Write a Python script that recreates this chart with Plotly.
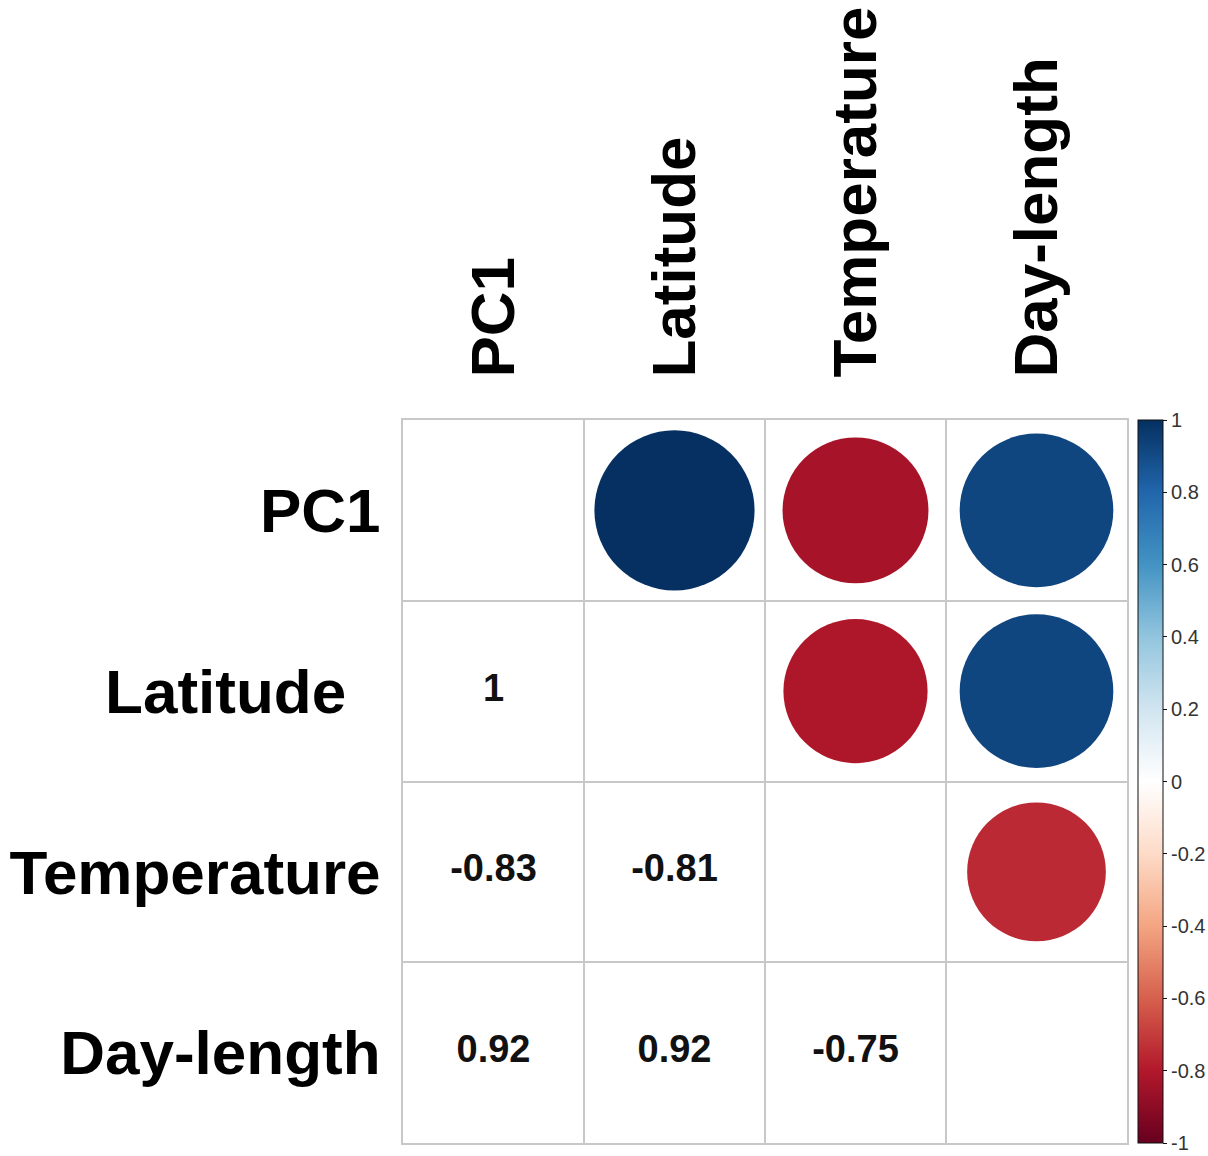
import numpy as np
import plotly.graph_objects as go

variables = ["PC1", "Latitude", "Temperature", "Day-length"]
row_labels = ["PC1", "Latitude\u00a0\u00a0", "Temperature", "Day-length"]
corr = [
    [1.00, 1.00, -0.83, 0.92],
    [1.00, 1.00, -0.81, 0.92],
    [-0.83, -0.81, 1.00, -0.75],
    [0.92, 0.92, -0.75, 1.00],
]
cb_ticks = [1, 0.8, 0.6, 0.4, 0.2, 0, -0.2, -0.4, -0.6, -0.8, -1]
rdbu = ["#67001F", "#B2182B", "#D6604D", "#F4A582", "#FDDBC7", "#FFFFFF",
        "#D1E5F0", "#92C5DE", "#4393C3", "#2166AC", "#053061"]

W, H = 1208, 1156
L, R, T, B = 403, 81, 420, 13
n = len(variables)
cell_px = (W - L - R) / n

cx, cy, cval, csize = [], [], [], []
tx, ty, ttxt = [], [], []
for i in range(n):
    for j in range(n):
        v = corr[i][j]
        if j > i:
            cx.append(j); cy.append(i); cval.append(v)
            csize.append(0.885 * cell_px * np.sqrt(abs(v)))
        elif j < i:
            tx.append(j); ty.append(i); ttxt.append(f"{v:g}")

colorscale = [[k / (len(rdbu) - 1), c] for k, c in enumerate(rdbu)]

fig = go.Figure()
fig.add_trace(go.Scatter(
    x=cx, y=cy, mode="markers",
    marker=dict(size=csize, color=cval, colorscale=colorscale, cmin=-1, cmax=1,
                line=dict(width=0), opacity=1,
                showscale=True,
                colorbar=dict(x=1.0152, xanchor="left", y=0.5, yanchor="middle",
                              xpad=0, ypad=0,
                              len=1.0, lenmode="fraction", thickness=25,
                              outlinewidth=1, outlinecolor="#111",
                              tickvals=cb_ticks, ticktext=[f"{t:g}" for t in cb_ticks],
                              ticks="outside", ticklen=4, tickcolor="#111",
                              tickfont=dict(family="Liberation Sans", size=20, color="#333"))),
    hoverinfo="skip", showlegend=False,
))
fig.add_trace(go.Scatter(
    x=tx, y=ty, mode="text", text=ttxt,
    textfont=dict(family="Liberation Sans", size=38, color="#111", weight="bold"),
    hoverinfo="skip", showlegend=False,
))

axis_font = dict(family="Liberation Sans", size=62, color="#000", weight="bold")
fig.update_xaxes(
    range=[-0.5, n - 0.5], side="top", tickmode="array",
    tickvals=list(range(n)), ticktext=variables, tickangle=-90,
    tickfont=axis_font, ticks="", ticklabelstandoff=28,
    showgrid=False, zeroline=False,
    showline=True, mirror=True, linecolor="#c8c8c8", linewidth=2,
    minor=dict(tickmode="linear", tick0=-0.5, dtick=1, showgrid=True,
               gridcolor="#c8c8c8", gridwidth=2, ticks=""),
)
fig.update_yaxes(
    range=[n - 0.5, -0.5], tickmode="array",
    tickvals=list(range(n)), ticktext=row_labels,
    tickfont=axis_font, ticks="", ticklabelstandoff=8,
    showgrid=False, zeroline=False,
    showline=True, mirror=True, linecolor="#c8c8c8", linewidth=2,
    minor=dict(tickmode="linear", tick0=-0.5, dtick=1, showgrid=True,
               gridcolor="#c8c8c8", gridwidth=2, ticks=""),
)
fig.update_layout(
    width=W, height=H, margin=dict(l=L, r=R, t=T, b=B, autoexpand=False),
    paper_bgcolor="white", plot_bgcolor="white",
)
fig.write_html(
    "out.html",
    config={"displayModeBar": False, "staticPlot": True},
    post_script="document.body.style.margin='0';document.body.style.overflow='hidden';"
                "document.documentElement.style.overflow='hidden';",
)
